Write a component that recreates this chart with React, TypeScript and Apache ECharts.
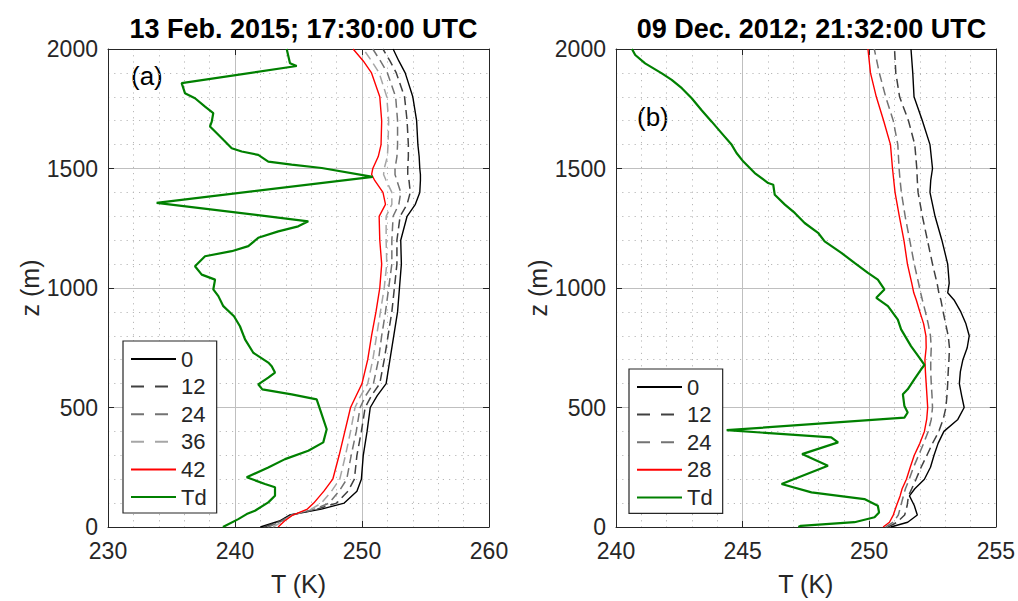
import React, { useEffect, useRef } from "react";
import * as echarts from "echarts";

const FONT = "'Liberation Sans', Arial, Helvetica, sans-serif";
const INK = "#262626";

// ---- Panel (a): 13 Feb. 2015 ----
const TITLE_A = "13 Feb. 2015; 17:30:00 UTC";
const HEIGHTS_A = [0, 25, 50, 75, 100, 150, 200, 300, 400, 500, 550, 600, 700, 800, 900, 1000, 1100, 1200, 1300, 1350, 1400, 1450, 1475, 1500, 1550, 1600, 1700, 1800, 1900, 1950, 2000];
const T0_A = [242.0, 243.5, 244.3, 246.8, 248.6, 249.6, 249.95, 250.1, 250.4, 250.65, 251.2, 251.9, 252.2, 252.5, 252.8, 252.95, 253.1, 253.05, 253.55, 254.2, 254.55, 254.6, 254.6, 254.55, 254.5, 254.4, 254.3, 254.0, 253.4, 252.9, 252.45];
const T12_A = [242.3, 243.6, 244.4, 246.5, 248.0, 248.9, 249.4, 249.6, 249.95, 250.25, 250.75, 251.4, 251.75, 252.05, 252.35, 252.55, 252.75, 252.75, 253.0, 253.55, 253.8, 253.7, 253.6, 253.6, 253.65, 253.65, 253.55, 253.35, 252.7, 252.2, 251.65];
const T24_A = [242.6, 243.7, 244.45, 246.3, 247.4, 248.2, 248.8, 249.15, 249.55, 249.85, 250.3, 250.9, 251.3, 251.55, 251.85, 252.1, 252.35, 252.35, 252.45, 252.9, 253.05, 252.75, 252.6, 252.6, 252.75, 252.8, 252.8, 252.65, 252.0, 251.45, 250.85];
const T36_A = [243.0, 243.8, 244.5, 246.0, 246.8, 247.6, 248.25, 248.7, 249.1, 249.45, 249.9, 250.45, 250.85, 251.15, 251.45, 251.75, 251.95, 251.9, 251.9, 252.35, 252.35, 251.9, 251.7, 251.75, 252.0, 252.05, 252.1, 251.95, 251.35, 250.75, 250.1];
const T42_A = [243.4, 243.9, 244.55, 245.7, 246.2, 247.0, 247.7, 248.2, 248.65, 249.1, 249.55, 250.0, 250.45, 250.75, 251.1, 251.4, 251.55, 251.4, 251.35, 251.85, 251.65, 251.0, 250.76, 250.85, 251.28, 251.5, 251.55, 251.4, 250.75, 250.1, 249.3];
const TD_A_Z = [0, 33, 54, 68, 103, 131, 166, 180, 208, 249, 284, 319, 354, 409, 493, 534, 555, 576, 597, 625, 646, 673, 688, 729, 785, 840, 882, 924, 966, 994, 1035, 1056, 1091, 1133, 1154, 1175, 1210, 1237, 1258, 1279, 1356, 1465, 1502, 1516, 1529, 1557, 1571, 1585, 1620, 1655, 1676, 1696, 1732, 1759, 1794, 1815, 1857, 1929, 1940, 2000];
const TD_A_T = [239.05, 240.26, 240.92, 241.57, 242.62, 243.15, 243.15, 242.36, 240.92, 242.62, 243.94, 245.77, 246.95, 247.22, 246.69, 246.43, 244.46, 242.15, 241.83, 242.62, 243.15, 242.89, 242.62, 241.44, 240.79, 240.39, 239.92, 239.08, 238.69, 238.29, 238.43, 237.38, 236.85, 237.64, 239.74, 241.05, 241.83, 243.41, 244.98, 245.77, 233.83, 250.85, 246.83, 244.46, 242.62, 241.83, 240.53, 239.74, 239.08, 238.43, 238.03, 238.17, 238.29, 237.64, 236.85, 236.06, 235.8, 244.86, 244.33, 244.07];
const X_TICKS_A = { min: 230, max: 260, interval: 10 };

// ---- Panel (b): 09 Dec. 2012 ----
const TITLE_B = "09 Dec. 2012; 21:32:00 UTC";
const HEIGHTS_B = [0, 20, 50, 90, 130, 160, 200, 250, 300, 350, 400, 450, 500, 550, 600, 650, 700, 750, 800, 850, 900, 950, 980, 1020, 1100, 1200, 1300, 1400, 1450, 1500, 1600, 1700, 1800, 1900, 2000];
const T0_B = [250.85, 251.52, 251.9, 251.78, 251.59, 251.8, 252.18, 252.42, 252.56, 252.72, 252.95, 253.5, 253.75, 253.65, 253.56, 253.6, 253.7, 253.87, 253.95, 253.82, 253.62, 253.35, 253.1, 253.16, 253.1, 252.87, 252.6, 252.4, 252.43, 252.5, 252.4, 252.1, 251.77, 251.72, 251.65];
const T12_B = [250.75, 251.1, 251.4, 251.5, 251.55, 251.68, 251.85, 252.05, 252.28, 252.5, 252.75, 252.92, 253.03, 253.07, 253.1, 253.12, 253.15, 253.17, 253.12, 253.02, 252.92, 252.83, 252.75, 252.68, 252.5, 252.3, 252.1, 251.93, 251.9, 251.88, 251.8, 251.55, 251.2, 251.05, 251.0];
const T24_B = [250.65, 250.95, 251.15, 251.25, 251.35, 251.43, 251.58, 251.75, 251.95, 252.15, 252.33, 252.45, 252.5, 252.48, 252.45, 252.43, 252.43, 252.45, 252.42, 252.33, 252.22, 252.1, 252.03, 251.95, 251.78, 251.6, 251.42, 251.27, 251.22, 251.18, 251.13, 250.95, 250.65, 250.4, 250.2];
const T28_B = [250.55, 250.8, 250.95, 251.08, 251.22, 251.3, 251.47, 251.62, 251.78, 252.0, 252.18, 252.27, 252.31, 252.28, 252.25, 252.22, 252.2, 252.25, 252.24, 252.15, 252.0, 251.86, 251.76, 251.68, 251.51, 251.37, 251.19, 251.02, 250.97, 250.92, 250.84, 250.57, 250.28, 250.05, 249.95];
const TD_B_Z = [0, 5, 20, 41, 61, 89, 117, 145, 180, 256, 305, 354, 375, 405, 458, 479, 506, 555, 576, 618, 660, 678, 709, 757, 827, 868, 924, 959, 994, 1035, 1063, 1105, 1147, 1195, 1231, 1272, 1314, 1349, 1390, 1432, 1439, 1481, 1529, 1565, 1599, 1648, 1696, 1743, 1794, 1836, 1871, 1898, 1940, 1975, 2000];
const TD_B_T = [247.2, 247.3, 249.42, 250.21, 250.39, 250.34, 249.81, 247.72, 246.54, 248.37, 247.35, 248.77, 248.5, 244.37, 251.39, 251.52, 251.39, 251.33, 251.52, 251.78, 252.05, 252.18, 251.98, 251.65, 251.26, 251.13, 250.74, 250.28, 250.6, 250.34, 249.95, 249.42, 248.9, 248.24, 247.98, 247.45, 247.06, 246.67, 246.27, 246.21, 246.01, 245.48, 245.03, 244.76, 244.57, 244.17, 243.78, 243.39, 242.99, 242.6, 242.2, 241.81, 241.15, 240.76, 240.63];
const X_TICKS_B = { min: 240, max: 255, interval: 5 };

const Z_TICKS = { min: 0, max: 2000, interval: 500 };
const LEGEND_A = ["0", "12", "24", "36", "42", "Td"];
const LEGEND_B = ["0", "12", "24", "28", "Td"];

// line styles per series label
const STYLES: Record<string, any> = {
  "0": { color: "#000000", width: 1.4, type: "solid" },
  "12": { color: "#404040", width: 1.5, type: [9, 5] },
  "24": { color: "#737373", width: 1.5, type: [9, 5] },
  "36": { color: "#a6a6a6", width: 1.5, type: [9, 5] },
  "42": { color: "#ff0000", width: 1.4, type: "solid" },
  "28": { color: "#ff0000", width: 1.4, type: "solid" },
  Td: { color: "#008000", width: 2.2, type: "solid" },
};
const DASHED = new Set(["12", "24", "36"]);

const GRID_A = { left: 108, top: 49, width: 381, height: 479 };
const GRID_B = { left: 616, top: 49, width: 381, height: 479 };

const MAJOR_GRID = { show: true, lineStyle: { color: "#bfbfbf", width: 1 } };
const MINOR_GRID = { show: true, lineStyle: { color: "#b8b8b8", width: 1, type: [1.2, 5] } };
const AXIS_LINE = { show: true, onZero: false, lineStyle: { color: INK, width: 1 } };
const AXIS_TICK = { show: true, inside: true, length: 6, lineStyle: { color: INK, width: 1 } };
const TICK_LABEL = { fontSize: 23, lineHeight: 17, color: INK, fontFamily: FONT, formatter: (v: number) => String(v) };
const NAME_STYLE = { fontSize: 25, color: INK, fontFamily: FONT };
const TITLE_STYLE = { fontSize: 27, fontWeight: "bold", color: "#000", fontFamily: FONT };

function xAxesFor(gridIndex: number, ticks: { min: number; max: number; interval: number }) {
  const base = { type: "value", gridIndex, ...ticks, axisLine: AXIS_LINE, axisTick: AXIS_TICK };
  return [
    {
      ...base,
      position: "bottom",
      axisLabel: { ...TICK_LABEL, margin: 15 },
      splitLine: MAJOR_GRID,
      minorTick: { show: false, splitNumber: 5 },
      minorSplitLine: MINOR_GRID,
      name: "T (K)",
      nameLocation: "middle",
      nameGap: 44,
      nameTextStyle: NAME_STYLE,
    },
    { ...base, position: "top", axisLabel: { show: false }, splitLine: { show: false } },
  ];
}

function yAxesFor(gridIndex: number) {
  const base = { type: "value", gridIndex, ...Z_TICKS, axisLine: AXIS_LINE, axisTick: AXIS_TICK };
  return [
    {
      ...base,
      position: "left",
      axisLabel: { ...TICK_LABEL, margin: 10 },
      splitLine: MAJOR_GRID,
      minorTick: { show: false, splitNumber: 5 },
      minorSplitLine: MINOR_GRID,
      name: "z (m)",
      nameLocation: "middle",
      nameGap: 56,
      nameTextStyle: NAME_STYLE,
    },
    { ...base, position: "right", axisLabel: { show: false }, splitLine: { show: false } },
  ];
}

function profile(name: string, temps: number[], heights: number[], axisIndex: number) {
  const style = STYLES[name];
  return {
    name,
    type: "line",
    xAxisIndex: axisIndex,
    yAxisIndex: axisIndex,
    data: heights.map((z, i) => [temps[i], z]),
    symbol: "none",
    showSymbol: false,
    color: style.color,
    lineStyle: { ...style },
    silent: true,
  };
}

function legendFor(names: string[], left: number, top: number) {
  return {
    data: names.map((name) =>
      DASHED.has(name) ? { name, lineStyle: { type: [13, 11] } } : { name }
    ),
    orient: "vertical",
    left,
    top,
    selectedMode: false,
    backgroundColor: "#ffffff",
    borderColor: INK,
    borderWidth: 1.2,
    borderRadius: 0,
    padding: [7, 10, 5, 7],
    itemWidth: 45,
    itemHeight: 14,
    itemGap: 5.6,
    itemStyle: { opacity: 0 },
    textStyle: { fontSize: 22, lineHeight: 22, color: INK, fontFamily: FONT },
  };
}

function buildOption() {
  return {
    animation: false,
    backgroundColor: "#ffffff",
    grid: [
      { ...GRID_A, containLabel: false },
      { ...GRID_B, containLabel: false },
    ],
    xAxis: [...xAxesFor(0, X_TICKS_A), ...xAxesFor(1, X_TICKS_B)],
    yAxis: [...yAxesFor(0), ...yAxesFor(1)],
    title: [
      { text: TITLE_A, left: GRID_A.left + GRID_A.width / 2, top: 10, textAlign: "center", textStyle: TITLE_STYLE },
      { text: TITLE_B, left: GRID_B.left + GRID_B.width / 2, top: 10, textAlign: "center", textStyle: TITLE_STYLE },
    ],
    legend: [legendFor(LEGEND_A, 123, 341), legendFor(LEGEND_B, 629, 369)],
    graphic: [
      { type: "text", left: 131, top: 63, style: { text: "(a)", fontSize: 26, fill: "#000", fontFamily: FONT } },
      { type: "text", left: 637, top: 104, style: { text: "(b)", fontSize: 26, fill: "#000", fontFamily: FONT } },
    ],
    series: [
      profile("0", T0_A, HEIGHTS_A, 0),
      profile("12", T12_A, HEIGHTS_A, 0),
      profile("24", T24_A, HEIGHTS_A, 0),
      profile("36", T36_A, HEIGHTS_A, 0),
      profile("42", T42_A, HEIGHTS_A, 0),
      profile("Td", TD_A_T, TD_A_Z, 0),
      profile("0", T0_B, HEIGHTS_B, 2),
      profile("12", T12_B, HEIGHTS_B, 2),
      profile("24", T24_B, HEIGHTS_B, 2),
      profile("28", T28_B, HEIGHTS_B, 2),
      profile("Td", TD_B_T, TD_B_Z, 2),
    ],
  };
}

export default function App() {
  const ref = useRef<HTMLDivElement>(null);
  useEffect(() => {
    if (!ref.current) return;
    const chart = echarts.init(ref.current, null, { renderer: "svg" });
    chart.setOption(buildOption() as any);
    return () => chart.dispose();
  }, []);
  return (
    <div
      ref={ref}
      style={{ position: "fixed", left: 0, top: 0, width: 1018, height: 601, background: "#ffffff" }}
    />
  );
}
